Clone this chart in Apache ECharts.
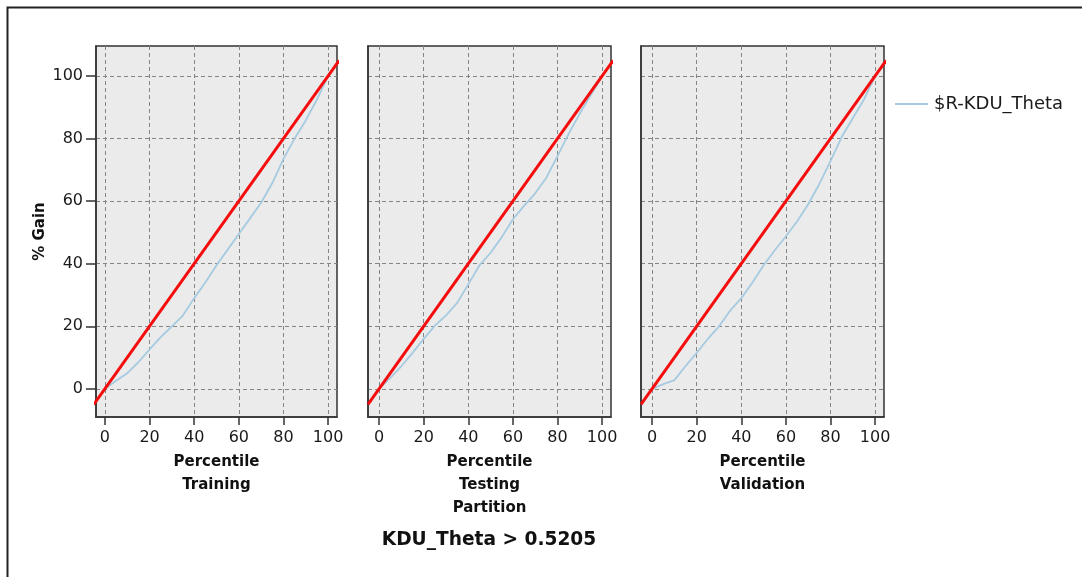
<!DOCTYPE html>
<html><head><meta charset="utf-8">
<script src="https://cdn.jsdelivr.net/npm/echarts@6/dist/echarts.min.js"></script>
<style>html,body{margin:0;padding:0;background:#fff}#c{width:1082px;height:577px}</style>
</head><body><div id="c"></div>
<script>
// ---- data ----
const percentiles = [0,5,10,15,20,25,30,35,40,45,50,55,60,65,70,75,80,85,90,95,100];
const trainingGain   = [0,2.6,5,8.5,12.6,16.5,20,23.5,29,34,39.5,44.5,49.5,54.5,59.5,65.8,73.5,80,85.8,92.5,100];
const testingGain    = [0,3.5,7.3,11.5,16,20.2,23.5,27.5,33.4,39.5,43.5,48.5,54.2,58.5,62.5,67.5,74.4,81.5,88,94,100];
const validationGain = [0,1.5,2.8,7.3,11.5,16,20,25,29,34,39.5,44.3,48.8,53.5,59,65.5,72.8,80.5,86.5,92.5,100];
const refLineX = [-5, 105];
const refLineY = [-5, 105];
const tickValues = [0,20,40,60,80,100];
const panelNames = ['Percentile\nTraining', 'Percentile\nTesting\nPartition', 'Percentile\nValidation'];
const seriesName = '$R-KDU_Theta';
const yName = '% Gain';
const chartTitle = 'KDU_Theta > 0.5205';

// ---- layout ----
const gains = [trainingGain, testingGain, validationGain];
const gridLefts = [96, 368, 641];
const gridWidths = [241, 243, 243];
const xMins = [-4, -5, -5];
const FONT = 'DejaVu Sans';
const BLUE = '#a6cbe0';

const grids = [], xAxes = [], yAxes = [], series = [];
for (let i = 0; i < 3; i++) {
  grids.push({left: gridLefts[i], width: gridWidths[i], top: 46, height: 371,
    show: true, backgroundColor: '#ebebeb', borderColor: '#333', borderWidth: 1.5, containLabel: false});
  xAxes.push({type: 'value', gridIndex: i, min: xMins[i], max: 104,
    name: panelNames[i], nameLocation: 'middle', nameGap: 32,
    nameTextStyle: {fontFamily: FONT, fontWeight: 'bold', fontSize: 15, color: '#111', lineHeight: 23},
    axisLine: {show: true, onZero: false, lineStyle: {color: '#333', width: 1.5}},
    axisTick: {show: true, length: 8, customValues: tickValues, lineStyle: {color: '#333', width: 1.5}},
    axisLabel: {customValues: tickValues, margin: 13, fontFamily: FONT, fontSize: 16, color: '#1a1a1a'},
    splitLine: {show: true, lineStyle: {color: '#858585', type: [4, 3], width: 1}}
  });
  yAxes.push({type: 'value', gridIndex: i, min: -9, max: 109.6,
    name: i === 0 ? yName : '', nameLocation: 'middle', nameGap: 48,
    nameTextStyle: {fontFamily: FONT, fontWeight: 'bold', fontSize: 15, color: '#111'},
    axisLine: {show: true, onZero: false, lineStyle: {color: '#333', width: 1.5}},
    axisTick: {show: i === 0, length: 10, customValues: tickValues, lineStyle: {color: '#333', width: 1.5}},
    axisLabel: {show: i === 0, customValues: tickValues, margin: 13, fontFamily: FONT, fontSize: 16, color: '#1a1a1a'},
    splitLine: {show: true, lineStyle: {color: '#858585', type: [4, 3], width: 1}}
  });
  series.push({name: seriesName, type: 'line', xAxisIndex: i, yAxisIndex: i, symbol: 'none',
    data: percentiles.map((p, k) => [p, gains[i][k]]),
    lineStyle: {color: BLUE, width: 1.8}, itemStyle: {color: BLUE}, z: 3, silent: true});
  series.push({name: 'ref' + i, type: 'line', xAxisIndex: i, yAxisIndex: i, symbol: 'none', clip: true,
    data: refLineX.map((x, k) => [x, refLineY[k]]),
    lineStyle: {color: '#f50d0d', width: 3}, z: 4, silent: true});
}

const chart = echarts.init(document.getElementById('c'), null, {renderer: 'canvas'});
chart.setOption({
  animation: false,
  backgroundColor: '#fff',
  title: {text: chartTitle, left: 484, top: 526, textAlign: 'center',
    textStyle: {fontFamily: FONT, fontWeight: 'bold', fontSize: 18.6, color: '#111'}},
  legend: {data: [{name: seriesName, icon: 'rect'}], left: 890, top: 90, itemWidth: 33, itemHeight: 2, itemGap: 5,
    itemStyle: {color: BLUE},
    textStyle: {fontFamily: FONT, fontSize: 18, color: '#1a1a1a', padding: [0, 0, 0, 1]}},
  graphic: [{type: 'rect', left: 5, top: 5, shape: {width: 1076, height: 620},
    style: {fill: 'none', stroke: '#222', lineWidth: 2}, silent: true, z: -1}],
  grid: grids, xAxis: xAxes, yAxis: yAxes, series: series
});
</script></body></html>
